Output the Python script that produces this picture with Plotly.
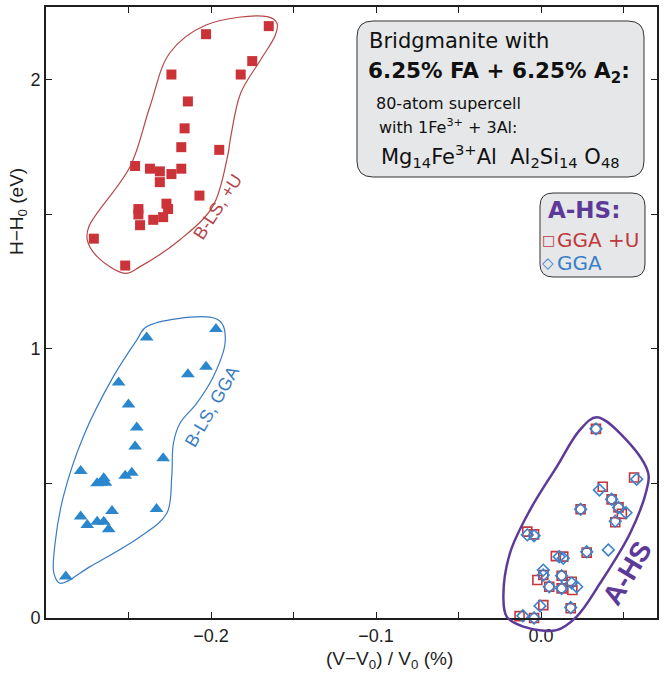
import plotly.graph_objects as go

# ---------------- data ----------------
# B-LS, GGA+U (filled red squares)
bls_u_x = [-0.165, -0.203, -0.175, -0.224, -0.182, -0.214, -0.216, -0.218, -0.195, -0.246,
           -0.237, -0.231, -0.218, -0.224, -0.231, -0.207, -0.227, -0.226, -0.244, -0.244,
           -0.229, -0.235, -0.243, -0.271, -0.252]
bls_u_y = [2.20, 2.17, 2.07, 2.02, 2.02, 1.92, 1.82, 1.75, 1.74, 1.68,
           1.67, 1.66, 1.67, 1.65, 1.62, 1.57, 1.54, 1.52, 1.52, 1.50,
           1.49, 1.48, 1.46, 1.41, 1.31]

# B-LS, GGA (filled blue triangles)
bls_gga_x = [-0.239, -0.197, -0.203, -0.214, -0.256, -0.250, -0.245, -0.246, -0.229, -0.279,
             -0.248, -0.252, -0.265, -0.269, -0.264, -0.267, -0.260, -0.233, -0.279, -0.275,
             -0.269, -0.265, -0.262, -0.288]
bls_gga_y = [1.043, 1.074, 0.934, 0.906, 0.875, 0.794, 0.708, 0.637, 0.594, 0.546,
             0.540, 0.529, 0.519, 0.501, 0.503, 0.503, 0.398, 0.405, 0.377, 0.346,
             0.358, 0.358, 0.330, 0.154]

# A-HS, GGA+U (open red squares)
ahs_u_x = [0.0333, 0.0564, 0.0374, 0.0428, 0.047, 0.049, 0.045, 0.024, -0.0083, -0.0042,
           0.009, 0.0135, 0.0277, -0.0022, 0.0014, 0.005, 0.0125, 0.0125, 0.0186, 0.019,
           0.0014, 0.018, -0.013, -0.0042]
ahs_u_y = [0.703, 0.522, 0.488, 0.441, 0.411, 0.387, 0.356, 0.404, 0.321, 0.311,
           0.230, 0.228, 0.243, 0.141, 0.160, 0.116, 0.157, 0.110, 0.135, 0.104,
           0.048, 0.036, 0.007, 0.0]

# A-HS, GGA (open blue diamonds)
ahs_gga_x = [0.0333, 0.058, 0.0354, 0.0428, 0.047, 0.0515, 0.045, 0.024, -0.0083, -0.0042,
             0.011, 0.0135, 0.0277, 0.0014, 0.0014, 0.005, 0.0125, 0.0125, 0.0186, 0.0216,
             -0.0006, 0.018, -0.011, -0.0042, 0.0408]
ahs_gga_y = [0.703, 0.516, 0.476, 0.441, 0.411, 0.391, 0.360, 0.404, 0.309, 0.306,
             0.228, 0.222, 0.246, 0.178, 0.160, 0.116, 0.157, 0.110, 0.130, 0.116,
             0.045, 0.039, 0.008, 0.0, 0.253]

# hand-drawn cluster outlines (data coordinates)
red_loop_x = [-0.203, -0.225, -0.237, -0.249, -0.274, -0.275, -0.269, -0.252, -0.243, -0.219,
              -0.199, -0.190, -0.188, -0.182, -0.170, -0.161, -0.160, -0.166]
red_loop_y = [2.204, 2.100, 1.901, 1.678, 1.455, 1.405, 1.343, 1.281, 1.306, 1.405,
              1.529, 1.715, 1.789, 1.951, 2.074, 2.167, 2.211, 2.235]

blue_loop_x = [-0.2006, -0.1935, -0.1915, -0.1986, -0.2087, -0.2188, -0.2228, -0.2238, -0.2268, -0.243,
               -0.2733, -0.2915, -0.2952, -0.2945, -0.2895, -0.2774, -0.2592, -0.245, -0.239]
blue_loop_y = [1.118, 1.096, 1.021, 0.897, 0.798, 0.724, 0.649, 0.525, 0.389, 0.302,
               0.191, 0.129, 0.166, 0.278, 0.451, 0.674, 0.897, 1.033, 1.083]

purple_loop_x = [0.0338, 0.0520, 0.065, 0.064, 0.054, 0.0358, 0.0216, 0.0095, -0.0107, -0.0208,
                 -0.0228, -0.0188, -0.0067, 0.0095, 0.0236]
purple_loop_y = [0.746, 0.660, 0.538, 0.476, 0.315, 0.129, 0.005, -0.045, -0.032, 0.005,
                 0.079, 0.241, 0.401, 0.562, 0.699]

x_tickvals = [-0.2, -0.1, 0.0]
x_ticktext = ["\u22120.2", "\u22120.1", "0.0"]
x_minor_vals = [-0.25, -0.15, -0.05, 0.05]
y_tickvals = [0, 1, 2]
y_ticktext = ["0", "1", "2"]
y_minor_vals = [0.5, 1.5]
x_range = [-0.3, 0.0703]
y_range = [0.0, 2.271]

# ---------------- layout geometry ----------------
W, H = 665, 673
ML, MR, MT, MB = 46, 8, 7, 28
PW, PH = W - ML - MR, H - MT - MB
AXIS_BOTTOM_PX = 618
dom_b = (H - MB - AXIS_BOTTOM_PX) / PH
y2_min = y_range[0] - dom_b / (1 - dom_b) * (y_range[1] - y_range[0])


def px(xp):
    return (xp - ML) / PW


def py(yp):
    return (H - MB - yp) / PH


def rounded_rect(x0, y0, x1, y1, r):
    def P(a, b):
        return f"{px(a):.5f},{py(b):.5f}"
    s = "M" + P(x0 + r, y0)
    s += " L" + P(x1 - r, y0) + " Q" + P(x1, y0) + " " + P(x1, y0 + r)
    s += " L" + P(x1, y1 - r) + " Q" + P(x1, y1) + " " + P(x1 - r, y1)
    s += " L" + P(x0 + r, y1) + " Q" + P(x0, y1) + " " + P(x0, y1 - r)
    s += " L" + P(x0, y0 + r) + " Q" + P(x0, y0) + " " + P(x0 + r, y0) + " Z"
    return s


RED = "#cc3339"
BLUE = "#2a87cd"
PURPLE = "#5e3a98"
ARIAL = "Liberation Sans, Arial, sans-serif"
BOXF = "DejaVu Sans, sans-serif"
AXC = "#1e1e1e"

fig = go.Figure()

# outlines on an overlay subplot that extends below the x axis
fig.add_trace(go.Scatter(x=red_loop_x + red_loop_x[:1], y=red_loop_y + red_loop_y[:1],
                         mode="lines", line=dict(color="#b5474a", width=1.2, shape="spline", smoothing=1.0),
                         xaxis="x2", yaxis="y2", hoverinfo="skip", showlegend=False))
fig.add_trace(go.Scatter(x=blue_loop_x + blue_loop_x[:1], y=blue_loop_y + blue_loop_y[:1],
                         mode="lines", line=dict(color="#3a7cc4", width=1.2, shape="spline", smoothing=1.0),
                         xaxis="x2", yaxis="y2", hoverinfo="skip", showlegend=False))
fig.add_trace(go.Scatter(x=purple_loop_x + purple_loop_x[:1], y=purple_loop_y + purple_loop_y[:1],
                         mode="lines", line=dict(color=PURPLE, width=2.5, shape="spline", smoothing=1.0),
                         xaxis="x2", yaxis="y2", hoverinfo="skip", showlegend=False))

fig.add_trace(go.Scatter(x=bls_u_x, y=bls_u_y, mode="markers", cliponaxis=False,
                         marker=dict(symbol="square", size=10, color=RED, line=dict(width=0)),
                         name="B-LS, +U", showlegend=False))
fig.add_trace(go.Scatter(x=bls_gga_x, y=bls_gga_y, mode="markers", cliponaxis=False,
                         marker=dict(symbol="triangle-up", size=12, color=BLUE, line=dict(width=0)),
                         name="B-LS, GGA", showlegend=False))
fig.add_trace(go.Scatter(x=ahs_u_x, y=ahs_u_y, mode="markers", cliponaxis=False,
                         marker=dict(symbol="square-open", size=9, color="#c8363c", line=dict(width=1.6)),
                         name="GGA +U", showlegend=False))
fig.add_trace(go.Scatter(x=ahs_gga_x, y=ahs_gga_y, mode="markers", cliponaxis=False,
                         marker=dict(symbol="diamond-open", size=9, color="#3a84cc", line=dict(width=1.6)),
                         name="GGA", showlegend=False))

axis_common = dict(showline=True, linecolor=AXC, linewidth=1.8, mirror="ticks",
                   ticks="inside", ticklen=6, tickwidth=1.2, tickcolor=AXC,
                   showgrid=False, zeroline=False,
                   tickfont=dict(family=ARIAL, size=18, color=AXC))

fig.update_layout(
    width=W, height=H,
    margin=dict(l=ML, r=MR, t=MT, b=MB, autoexpand=False),
    paper_bgcolor="white", plot_bgcolor="rgba(0,0,0,0)",
    showlegend=False,
    xaxis=dict(range=x_range, domain=[0, 1], anchor="y", tickmode="array",
               tickvals=x_tickvals, ticktext=x_ticktext,
               minor=dict(tickmode="array", tickvals=x_minor_vals, ticks="inside", ticklen=6,
                          tickwidth=1.2, tickcolor=AXC, showgrid=False),
               **axis_common),
    yaxis=dict(range=y_range, domain=[dom_b, 1], anchor="x", tickmode="array",
               tickvals=y_tickvals, ticktext=y_ticktext,
               minor=dict(tickmode="array", tickvals=y_minor_vals, ticks="inside", ticklen=6,
                          tickwidth=1.2, tickcolor=AXC, showgrid=False),
               **axis_common),
    xaxis2=dict(range=x_range, domain=[0, 1], anchor="y2", visible=False),
    yaxis2=dict(range=[y2_min, y_range[1]], domain=[0, 1], anchor="x2", visible=False),
)

# info boxes
fig.add_shape(type="path", path=rounded_rect(357, 21, 644, 177, 16), xref="paper", yref="paper",
              fillcolor="#e6e7e8", line=dict(color="#333333", width=1))
fig.add_shape(type="path", path=rounded_rect(540, 193, 645, 277, 13), xref="paper", yref="paper",
              fillcolor="#e6e7e8", line=dict(color="#333333", width=1))


def note(text, xp, yp, size, color="#111111", family=BOXF, xanchor="left", angle=0,
         xref="paper", yref="paper", pad=1):
    fig.add_annotation(text=text, x=xp, y=yp, xref=xref, yref=yref, showarrow=False,
                       xanchor=xanchor, yanchor="middle", textangle=angle, borderpad=pad,
                       font=dict(family=family, size=size, color=color))


note("Bridgmanite with", px(367), py(41), 21)
note("<b>6.25% FA + 6.25% A<sub>2</sub>:</b>", px(366), py(72), 21.5)
note("80-atom supercell", px(374), py(103), 16)
note("with 1Fe<sup>3+</sup> + 3Al:", px(377), py(126), 16)
note("Mg<sub>14</sub>Fe<sup>3+</sup>Al  Al<sub>2</sub>Si<sub>14</sub> O<sub>48</sub>", px(379), py(156), 21)

note("<b>A-HS:</b>", px(546), py(210), 23, color=PURPLE)
note("\u25a1", px(548), py(240), 14, color="#c0393d", xanchor="center", pad=0)
note("GGA +U", px(556), py(240), 20, color="#c0393d", pad=0)
note("\u25c7", px(548), py(263), 15, color="#3a80c8", xanchor="center", pad=0)
note("GGA", px(556), py(263), 20, color="#3a80c8", pad=0)

# cluster labels
note("B-LS, +U", -0.196, 1.528, 18, color="#b5444a", family=ARIAL, xanchor="center", angle=-57,
     xref="x", yref="y")
note("B-LS, GGA", -0.1996, 0.785, 18, color="#3a7cc4", family=ARIAL, xanchor="center", angle=-60,
     xref="x", yref="y")
note("<b>A-HS</b>", 0.052, 0.166, 28, color=PURPLE, family=ARIAL, xanchor="center", angle=-59,
     xref="x", yref="y")

# axis titles
note("(V\u2212V<sub>0</sub>) / V<sub>0</sub> (%)", px(389), py(660), 19, color=AXC, family=ARIAL,
     xanchor="center")
note("H\u2212H<sub>0</sub> (eV)", px(18), py(212), 19, color=AXC, family=ARIAL,
     xanchor="center", angle=-90)

fig.write_html("out.html", config={"displayModeBar": False},
               post_script="document.body.style.margin='0';")
